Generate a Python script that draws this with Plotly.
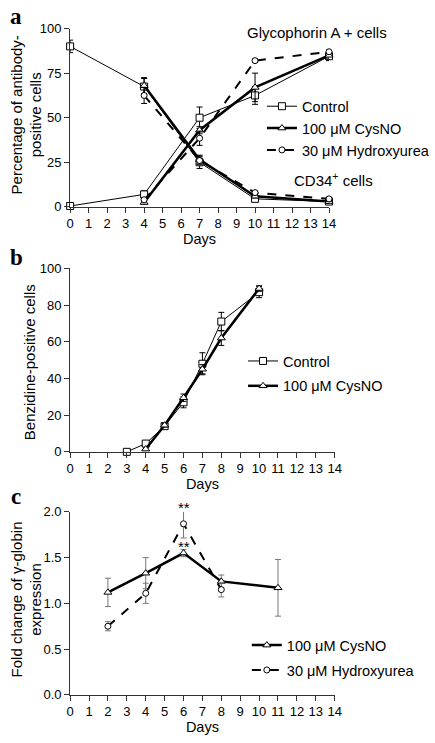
import plotly.graph_objects as go

W, H = 435, 743

# ---------------- Data ----------------
days_a = [0, 4, 7, 10, 14]
gpa_control = [0.5, 7, 50, 62.5, 84.5]
gpa_control_err = [0.5, 2, 6, 5, 2.5]
cd34_control = [90, 67.5, 25, 4.5, 3]
cd34_control_err = [3.5, 4.5, 3.5, 1, 1.5]

days_a2 = [4, 7, 10, 14]
gpa_cysno = [2.5, 43, 67, 85]
gpa_cysno_err = [1, 2, 8, 2]
cd34_cysno = [68, 26.5, 6, 3]
cd34_cysno_err = [4.5, 2.5, 1, 1]
gpa_hu = [4, 38.5, 82, 87]
gpa_hu_err = [1, 4, 1, 1]
cd34_hu = [62.5, 26, 8, 4.5]
cd34_hu_err = [4.5, 2, 1, 1]

days_b_control = [3, 4, 5, 6, 7, 8, 10]
benz_control = [0, 4.5, 14, 27, 48, 71, 87]
benz_control_err = [0.5, 1, 1, 3, 6, 5, 3]
days_b_cysno = [4, 5, 6, 7, 8, 10]
benz_cysno = [1.5, 14.5, 29.5, 45, 62, 89]
benz_cysno_err = [0.5, 1, 2, 2.5, 4, 1.5]

days_c_cysno = [2, 4, 6, 8, 11]
gglob_cysno = [1.12, 1.33, 1.55, 1.24, 1.17]
gglob_cysno_err = [0.155, 0.17, 0.04, 0.07, 0.31]
days_c_hu = [2, 4, 6, 8]
gglob_hu = [0.75, 1.11, 1.87, 1.15]
gglob_hu_err = [0.05, 0.11, 0.155, 0.08]

x_ticks = list(range(0, 15))

FONT = "Liberation Sans, Arial, Helvetica, sans-serif"
SERIF = "Liberation Serif, Times New Roman, serif"
AXC = "#333333"

def px_x(x0, x1):
    return [x0 / W, x1 / W]

def px_y(top, bottom):
    return [1 - bottom / H, 1 - top / H]

fig = go.Figure()

def add(x, y, err, ax, sym, lw, dash, name, show, legend, ecolor="black", size=7, group=None):
    fig.add_trace(go.Scatter(
        x=x, y=y, mode="lines+markers", name=name, showlegend=show,
        legend=legend, legendgroup=group,
        xaxis="x" + ax, yaxis="y" + ax,
        line=dict(color="black", width=lw, dash=dash),
        marker=dict(symbol=sym, size=size, color="white",
                    line=dict(color="black", width=1)),
        error_y=dict(type="data", array=err, visible=True,
                     color=ecolor, thickness=1, width=3),
        cliponaxis=False,
    ))

# Panel a
add(days_a, cd34_control, cd34_control_err, "", "square", 1, "solid", "Control", True, "legend")
add(days_a, gpa_control, gpa_control_err, "", "square", 1, "solid", "Control", False, "legend")
add(days_a2, cd34_cysno, cd34_cysno_err, "", "triangle-up", 2.5, "solid", "100 μM CysNO", True, "legend")
add(days_a2, gpa_cysno, gpa_cysno_err, "", "triangle-up", 2.5, "solid", "100 μM CysNO", False, "legend")
add(days_a2, cd34_hu, cd34_hu_err, "", "circle", 2, "dash", "30 μM Hydroxyurea", True, "legend", size=6)
add(days_a2, gpa_hu, gpa_hu_err, "", "circle", 2, "dash", "30 μM Hydroxyurea", False, "legend", size=6)

# Panel b
add(days_b_control, benz_control, benz_control_err, "2", "square", 1, "solid", "Control", True, "legend2", group="b1")
add(days_b_cysno, benz_cysno, benz_cysno_err, "2", "triangle-up", 2.5, "solid", "100 μM CysNO", True, "legend2", group="b2")

# Panel c
add(days_c_cysno, gglob_cysno, gglob_cysno_err, "3", "triangle-up", 2.5, "solid", "100 μM CysNO", True, "legend3", ecolor="#777777", group="c1")
add(days_c_hu, gglob_hu, gglob_hu_err, "3", "circle", 2, "dash", "30 μM Hydroxyurea", True, "legend3", ecolor="#777777", size=6, group="c2")

axis_common = dict(showline=True, linecolor=AXC, linewidth=1, ticks="outside",
                   ticklen=5, tickcolor=AXC, tickwidth=1, showgrid=False,
                   zeroline=False, tickfont=dict(family=FONT, size=13, color="black"))

xa = dict(axis_common, range=[0, 14], tickvals=x_ticks, ticktext=[str(t) for t in x_ticks],
          title=dict(text="Days", font=dict(family=FONT, size=14.5, color="black"), standoff=0))

LEGFONT = dict(family=FONT, size=14.5, color="black")

fig.update_layout(
    width=W, height=H, margin=dict(l=0, r=0, t=0, b=0),
    paper_bgcolor="white", plot_bgcolor="white",
    font=dict(family=FONT, size=13, color="black"),
    xaxis=dict(xa, domain=px_x(70, 344), anchor="y"),
    yaxis=dict(axis_common, domain=px_y(22, 204), range=[0, 100], tickvals=[0, 25, 50, 75, 100], anchor="x"),
    xaxis2=dict(xa, domain=px_x(70, 350), anchor="y2"),
    yaxis2=dict(axis_common, domain=px_y(266.7, 454), range=[0, 100], tickvals=[0, 20, 40, 60, 80, 100], anchor="x2"),
    xaxis3=dict(xa, domain=px_x(70, 350), anchor="y3"),
    yaxis3=dict(axis_common, domain=px_y(515.3, 702), range=[0, 2], tickvals=[0, 0.5, 1, 1.5, 2],
                ticktext=["0.0", "0.5", "1.0", "1.5", "2.0"], anchor="x3"),
    legend=dict(x=273 / W, y=1 - 85 / H, xanchor="left", yanchor="top",
                font=LEGFONT, bgcolor="rgba(0,0,0,0)", tracegroupgap=0, itemwidth=30),
    legend2=dict(x=253 / W, y=1 - 345 / H, xanchor="left", yanchor="top", traceorder="grouped",
                 font=LEGFONT, bgcolor="rgba(0,0,0,0)", tracegroupgap=3, itemwidth=30),
    legend3=dict(x=257 / W, y=1 - 635 / H, xanchor="left", yanchor="top", traceorder="grouped",
                 font=LEGFONT, bgcolor="rgba(0,0,0,0)", tracegroupgap=3, itemwidth=30),
)

ann = []
def txt(text, x, y, size=15, angle=0, family=FONT):
    ann.append(dict(text=text, x=x, y=y, xref="paper", yref="paper", showarrow=False,
                    textangle=angle, xanchor="center", yanchor="middle",
                    font=dict(family=family, size=size, color="black")))

txt("<b>a</b>", 13 / W, 1 - 10 / H, size=23, family=SERIF)
txt("<b>b</b>", 13 / W, 1 - 256 / H, size=23, family=SERIF)
txt("<b>c</b>", 13 / W, 1 - 500 / H, size=23, family=SERIF)

txt("Percentage of antibody-<br>positive cells", 24 / W, 1 - 110 / H, angle=-90)
txt("Benzidine-positive cells", 27 / W, 1 - 363 / H, angle=-90)
txt("Fold change of γ-globin<br>expression", 24 / W, 1 - 605 / H, angle=-90)

txt("Glycophorin A + cells", 331 / W, 1 - 26 / H)
txt("CD34<sup>+</sup> cells", 349 / W, 1 - 176 / H)

# significance marks above day 6 (x in data coords, y in paper so they are not hidden)
for ypx in (511, 551):
    ann.append(dict(text="**", x=6, y=1 - ypx / H, xref="x3", yref="paper", showarrow=False,
                    xanchor="center", yanchor="middle",
                    font=dict(family=FONT, size=15, color="black")))

fig.update_layout(annotations=ann)

fig.write_html("out.html", config={"displayModeBar": False},
               post_script="document.body.style.margin='0';document.body.style.overflow='hidden';")
